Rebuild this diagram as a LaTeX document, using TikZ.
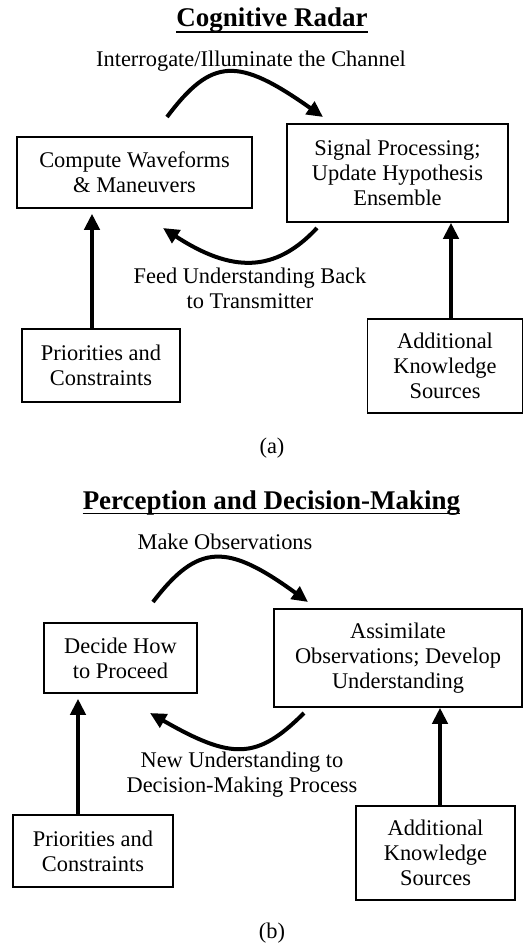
\documentclass[tikz,border=0pt]{standalone}
\usepackage{fontspec}
\setmainfont{Liberation Serif}
\usetikzlibrary{arrows.meta,calc}
\begin{document}
\begin{tikzpicture}[x=1pt,y=-1pt,
  font=\fontsize{22.4}{25}\selectfont,
  box/.style={draw,line width=1.5pt,align=center,inner sep=0pt},
  lbl/.style={align=center,inner sep=0pt},
  ttl/.style={inner sep=0pt,anchor=base,font=\fontsize{27}{30}\selectfont\bfseries},
  uline/.style={line width=1.8pt},
  arr/.style={line width=4pt,-{Triangle[length=16pt,width=15pt]}}]
\useasboundingbox (0,0) rectangle (524,947);

% ---------- panel (a) ----------
\node[ttl] (t1) at (272,27) {Cognitive Radar};
\draw[uline] ([yshift=-5pt]t1.base west) -- ([yshift=-5pt]t1.base east);

\node[box,minimum width=235pt,minimum height=71pt] (c1) at (134.5,172.5) {Compute Waveforms\\\& Maneuvers};
\node[box,minimum width=221pt,minimum height=98pt] (s1) at (397.5,173) {Signal Processing;\\Update Hypothesis\\Ensemble};
\node[box,minimum width=158pt,minimum height=73pt] (p1) at (101,365.5) {Priorities and\\Constraints};
\node[box,minimum width=155pt,minimum height=94pt] (k1) at (445,366) {Additional\\Knowledge\\Sources};

\node[lbl,anchor=base] (la1) at (251,67) {Interrogate/Illuminate the Channel};
\node[lbl] (lb1) at (250,288) {Feed Understanding Back\\to Transmitter};
\node[lbl,anchor=base] (ca) at (272,453) {(a)};

\coordinate (a1s) at (167,117);
\coordinate (a1e) at (323,117);
\coordinate (a2s) at (317,228);
\coordinate (a2e) at (163,228);
\draw[arr] (a1s) .. controls +(45,-60) and +(-85,-60) .. (a1e);
\draw[arr] (a2s) .. controls +(-42,45) and +(69,45) .. (a2e);
\draw[arr] ([xshift=-9pt]p1.north) -- ([xshift=-42.5pt,yshift=-5pt]c1.south);
\draw[arr] ([xshift=6pt]k1.north) -- ([xshift=53.5pt]s1.south);

% ---------- panel (b) ----------
\node[ttl] (t2) at (271.5,509) {Perception and Decision-Making};
\draw[uline] ([yshift=-4.5pt]t2.base west) -- ([yshift=-4.5pt]t2.base east);

\node[box,minimum width=153pt,minimum height=70pt] (d2) at (120.5,658) {Decide How\\to Proceed};
\node[box,minimum width=248pt,minimum height=98pt] (s2) at (398,658) {Assimilate\\Observations; Develop\\Understanding};
\node[box,minimum width=160pt,minimum height=72pt] (p2) at (93,851) {Priorities and\\Constraints};
\node[box,minimum width=159pt,minimum height=94pt] (k2) at (435.5,853) {Additional\\Knowledge\\Sources};

\node[lbl,anchor=base] (la2) at (225,549) {Make Observations};
\node[lbl] (lb2) at (242,775) {New Understanding to\\Decision-Making Process};
\node[lbl,anchor=base] (cb) at (272,938) {(b)};

\coordinate (b1s) at (153,602);
\coordinate (b1e) at (308,602);
\coordinate (b2s) at (304,713);
\coordinate (b2e) at (150,713);
\draw[arr] (b1s) .. controls +(45,-59) and +(-81,-59) .. (b1e);
\draw[arr] (b2s) .. controls +(-47,47) and +(82,47) .. (b2e);
\draw[arr] ([xshift=-15pt]p2.north) -- ([xshift=-42.5pt,yshift=-5pt]d2.south);
\draw[arr] ([xshift=4.5pt]k2.north) -- ([xshift=42pt]s2.south);
\end{tikzpicture}
\end{document}
